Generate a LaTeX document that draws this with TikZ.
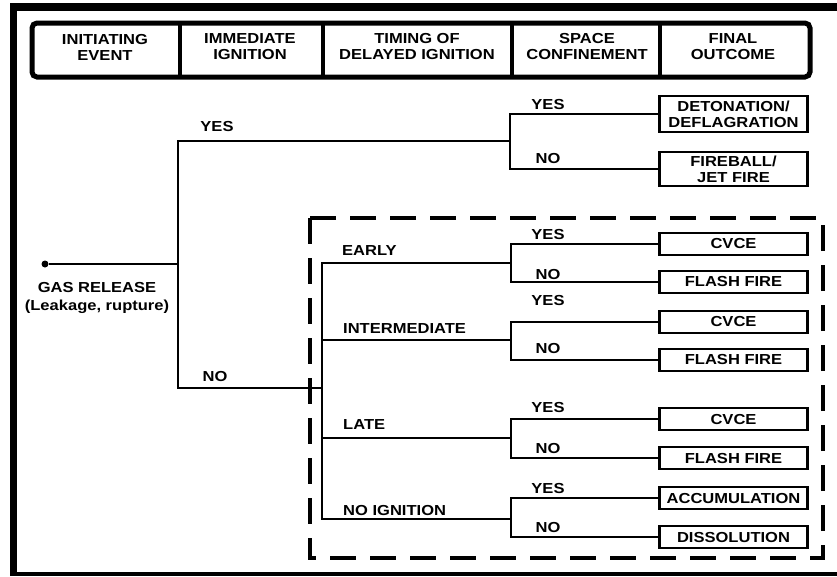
\documentclass[tikz,border=0pt]{standalone}
\usepackage{fontspec}
\setmainfont{Liberation Sans}[FakeStretch=1.14]
\newcommand{\treefont}{\fontsize{14.5}{16}\selectfont\bfseries}
\tikzset{
  lbl/.style={font=\treefont, inner sep=0pt},
  hdr/.style={font=\treefont, align=center, inner sep=0pt},
  outbox/.style={draw, line width=2.9pt, fill=white, font=\treefont, align=center,
    minimum width=148pt, minimum height=22pt, inner sep=1pt},
  branch/.style={line width=2.9pt},
}
\begin{document}
\begin{tikzpicture}[x=1pt, y=-1pt]
\useasboundingbox (0,0) rectangle (837,576);
% frame
\fill (10,3) rectangle (837,11);
\fill (10,3) rectangle (17,576);
\fill (10,572) rectangle (837,576);
% header row
\draw[line width=5pt, rounded corners=5pt] (32,23) rectangle (810,77);
\foreach \x in {180,323,512,660}
  \draw[line width=4pt] (\x,23) -- (\x,77);
\node[hdr] (h1) at (105,47) {INITIATING\\EVENT};
\node[hdr] (h2) at (250,47) {IMMEDIATE\\IGNITION};
\node[hdr] (h3) at (417,47) {TIMING OF\\DELAYED IGNITION};
\node[hdr] (h4) at (587,47) {SPACE\\CONFINEMENT};
\node[hdr] (h5) at (733,47) {FINAL\\OUTCOME};
% delayed ignition part
\draw[line width=3.5pt, dash pattern=on 26pt off 14pt] (310,218) rectangle (823,558);
% start
\node[circle, fill, inner sep=0pt, minimum size=7pt] (gas) at (45,264) {};
\node[hdr, font=\fontsize{14.5}{18}\selectfont\bfseries] (gaslbl) at (97,298) {GAS RELEASE\\(Leakage, rupture)};
\coordinate (j1) at (178,264);
\coordinate (j2) at (510,141);
\coordinate (j3) at (322,388);
\coordinate (jE) at (511,263);
\coordinate (jI) at (511,340);
\coordinate (jL) at (511,438);
\coordinate (jN) at (511,519);
% outcomes
\node[outbox, minimum height=36pt] (det) at (733.5,114) {DETONATION/\\DEFLAGRATION};
\node[outbox, minimum height=34pt] (fire) at (733.5,169) {FIREBALL/\\JET FIRE};
\foreach \name/\y/\txt in {cv1/244/CVCE, ff1/282/FLASH FIRE, cv2/322/CVCE, ff2/360/FLASH FIRE,
    cv3/419/CVCE, ff3/458/FLASH FIRE, acc/498/ACCUMULATION, dis/537/DISSOLUTION}
  \node[outbox] (\name) at (733.5,\y) {\txt};
% branches
\draw[line width=2.2pt] (gas) -- (j1);
\draw[branch] (j1) |- (j2);
\draw[branch] (j1) |- (j3);
\draw[branch] (j2) |- (det.west);
\draw[branch] (j2) |- (fire.west);
\foreach \j in {jE,jI,jL,jN}
  \draw[branch] (j3) |- (\j);
\foreach \j/\a/\b in {jE/cv1/ff1, jI/cv2/ff2, jL/cv3/ff3, jN/acc/dis} {
  \draw[branch] (\j) |- (\a.west);
  \draw[branch] (\j) |- (\b.west);
}
% labels
\node[lbl] (y0) at (217,127) {YES};
\node[lbl] (n0) at (215,377) {NO};
\node[lbl] (y1) at (548,105) {YES};
\node[lbl] (n1) at (548,159) {NO};
\foreach \name/\y/\txt in {y2/235/YES, n2/275/NO, y3/301/YES, n3/349/NO,
    y4/407/YES, n4/448/NO, y5/488/YES, n5/527/NO}
  \node[lbl] (\name) at (548,\y) {\txt};
\node[lbl, anchor=west] (early) at (342,251) {EARLY};
\node[lbl, anchor=west] (inter) at (343,329) {INTERMEDIATE};
\node[lbl, anchor=west] (late) at (343,425) {LATE};
\node[lbl, anchor=west] (noign) at (343,510) {NO IGNITION};
\end{tikzpicture}
\end{document}
